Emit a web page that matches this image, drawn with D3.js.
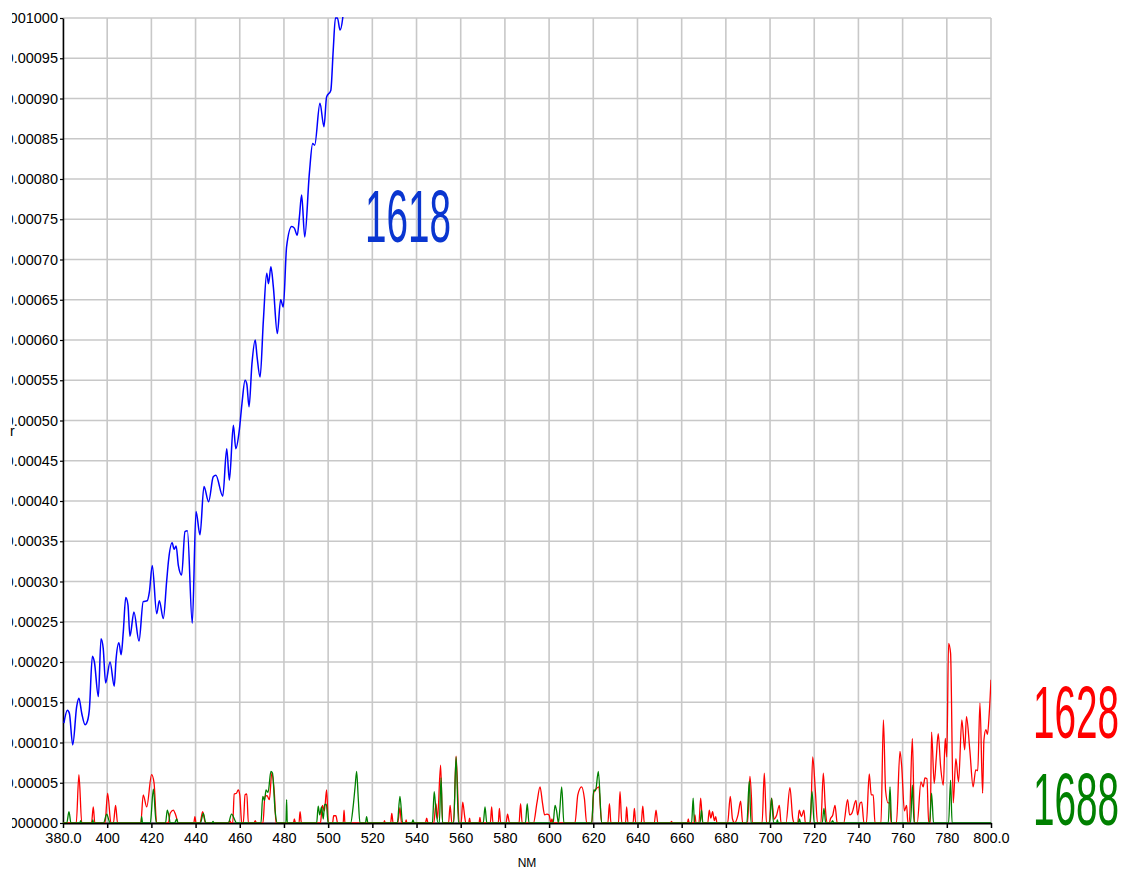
<!DOCTYPE html>
<html><head><meta charset="utf-8">
<script src="https://cdn.jsdelivr.net/npm/d3@7/dist/d3.min.js"></script>
<style>
html,body{margin:0;padding:0;background:#fff;}
svg{display:block;font-family:Arial,"Liberation Sans",sans-serif;}
</style></head>
<body><svg id="c" width="1128" height="874"></svg>
<script>
// ---- data (wavelength nm, value in units of 1e-5) ----
const xTicks = [380,400,420,440,460,480,500,520,540,560,580,600,620,640,660,680,700,720,740,760,780,800];
const xTickLabels = ["380.0","400","420","440","460","480","500","520","540","560","580","600","620","640","660","680","700","720","740","760","780","800.0"];
const yTicks = [0,5,10,15,20,25,30,35,40,45,50,55,60,65,70,75,80,85,90,95,100];
const yTickLabels = ["0.000000","0.00005","0.00010","0.00015","0.00020","0.00025","0.00030","0.00035","0.00040","0.00045","0.00050","0.00055","0.00060","0.00065","0.00070","0.00075","0.00080","0.00085","0.00090","0.00095","0.001000"];
const seriesNames = ["1618","1628","1688"];

const s1618 = [[380.4,12.4],[382,14.0],[382.9,13.6],[384.4,9.7],[386.2,14.5],[387.2,15.5],[388.5,13.6],[390,12.2],[390.7,12.4],[391.9,14.0],[393.3,20.7],[394.2,20.0],[396,15.7],[397.2,22.9],[398.2,21.7],[399.3,17.4],[401.3,20.0],[403.2,17.0],[404,20.3],[405.3,22.4],[406.3,20.9],[407.3,23.8],[408.4,28.0],[409.4,27.1],[410.3,23.2],[412.1,26.2],[414.4,22.6],[416.3,27.5],[418.1,27.6],[419.1,28.7],[420.4,32.0],[422.4,26.0],[423.6,27.6],[425.4,25.4],[426.9,30.0],[427.8,32.7],[429.4,34.8],[430.3,34.0],[431.2,34.4],[432.2,32.0],[433.7,30.8],[435.2,36.2],[436.3,36.3],[438.5,24.8],[440.2,38.7],[442,35.8],[443.8,41.8],[445.9,39.9],[448,43.0],[449.2,43.2],[452.3,40.6],[454.1,46.5],[455.3,42.6],[457.1,49.4],[458.2,46.5],[459.8,48.8],[461,52.1],[462.4,55.0],[463.2,54.5],[464.2,51.7],[465.5,57.0],[467,60.0],[467.8,58.0],[469.2,55.4],[470.7,62.5],[472.2,68.3],[473,67.0],[474.1,69.1],[475.2,66.6],[477,60.8],[478.5,65.0],[479.7,64.1],[481.2,71.6],[483.5,74.1],[484.7,73.9],[486,73.0],[487,75.3],[488,78.0],[489.4,72.8],[491.5,80.7],[493,84.4],[493.9,84.2],[496.3,89.4],[498.1,86.5],[499.3,90.2],[501.2,91.0],[502.3,96.0],[503.3,100],[504.2,100],[505.4,98.5],[506.6,100],[507.6,103]];

const s1628 = [[380,0],[386,0],[387.2,6.0],[388.5,0],[392.9,0],[393.7,2.0],[394.4,0],[399,0],[400.2,3.7],[401.7,0],[402.8,0],[403.8,2.2],[404.7,0],[415.2,0],[416.3,3.5],[417.9,2.0],[420.1,6.0],[421.2,5.0],[422.4,0],[427.7,0],[428.5,1.2],[429.9,1.6],[431,1.0],[432.2,0],[439.2,0],[439.7,0.8],[440.2,0],[442,0],[443.2,1.4],[444.5,0],[455,0],[455.5,0.3],[456,0],[456.8,0],[457.5,3.6],[458.5,3.7],[459.3,4.1],[460,3.5],[460.9,0],[461.6,0],[462.4,3.5],[463.2,3.6],[463.9,0],[466.5,0],[467,0.3],[467.5,0],[470.5,0],[471.4,3.3],[472.3,3.4],[473.4,2.9],[474.5,6.2],[475.7,3.5],[476.4,0],[484.3,0],[484.7,0.5],[485.2,0],[486.8,0],[487.3,1.4],[487.9,0],[496.5,0],[497.4,2.2],[498.3,1.5],[499.3,4.1],[500.1,0],[502,0],[502.5,0.9],[503.5,0.9],[504.3,0],[506.8,0],[507.2,1.6],[507.6,0],[525.2,0],[525.5,0.3],[525.8,0],[528.3,0],[528.8,1.2],[529.4,0],[531.5,0],[532.5,1.9],[533.2,0],[535,0],[535.3,0.4],[535.6,0],[544,0],[544.6,0.6],[545.2,0],[547.8,0],[548.8,2.4],[549.5,0.5],[550.9,7.2],[551.8,0],[554.5,0],[555.2,2.2],[556,0],[556.8,0],[557.9,8.3],[559.3,0],[560.2,0],[560.9,2.6],[561.8,0.8],[562.3,0],[563.6,0],[564,0.6],[564.4,0],[568.3,0],[568.7,0.7],[569.1,0],[573.4,0],[574,2.0],[574.6,0],[577,0],[577.5,1.8],[578.1,0],[580.5,0],[581.2,1.1],[582.1,0],[586.4,0],[587.1,2.4],[587.8,0],[592.9,0],[594.5,2.5],[595.9,4.5],[597,2.5],[598,1.0],[599,1.1],[600,1.0],[600.8,0],[601.3,0.5],[601.8,0],[611.7,0],[613,3.5],[614.7,4.5],[616,3.0],[617,0],[619.3,0],[620.2,3.8],[621.5,4.3],[622.5,4.5],[623.8,0],[626.6,0],[627.3,2.4],[628,0],[631.4,0],[632.1,3.9],[632.9,0],[634.6,0],[635.1,2.0],[635.7,0],[638,0],[638.6,1.8],[639.2,0],[641.7,0],[642.4,2.1],[643.1,0],[647.6,0],[648.4,1.6],[649.2,0],[655,0],[655.4,0.2],[655.8,0],[662.6,0],[663,0.5],[663.4,0],[665.6,0],[666,1.0],[666.5,0],[667.8,0],[668.6,3.1],[669.5,0],[671.8,0],[672.5,1.6],[673.2,0.6],[674,1.4],[674.8,0.3],[675.4,0.8],[676,0],[680.8,0],[682,3.3],[683,0.5],[684,0],[685.5,1.0],[686.7,2.7],[687.6,0],[689.8,0],[690.9,5.8],[691.6,3.0],[692,0],[696.4,0],[697.4,6.2],[698.4,0],[699.6,0],[700.7,3.1],[701.8,0.5],[703,1.0],[704.2,2.2],[705,0],[707.2,0],[709,4.4],[710.3,0.5],[711,0],[712.5,0],[713.2,1.6],[714.2,0.8],[715.3,1.6],[716,0],[718.3,0],[719.3,8.2],[720.5,4.0],[721.5,0],[723,0],[724.1,6.2],[725,2.0],[725.8,0],[726.8,0],[727.3,0.5],[728.4,1.0],[729.4,2.2],[730.4,0],[733.3,0],[735.1,2.9],[736,1.0],[737,1.2],[738.9,2.8],[739.6,1.0],[740.8,2.5],[741.5,2.6],[742.5,0],[743.6,0],[744.9,6.1],[745.8,3.5],[746.7,3.5],[747.5,0],[750.2,0],[751.3,12.8],[752.3,4.0],[753.4,2.5],[754.3,2.5],[754.8,0],[757.2,0],[758.8,8.9],[759.6,7.0],[760.8,1.5],[761.8,2.2],[762.4,0],[763,0],[764.4,10.5],[765.4,0],[766.6,0],[768.3,5.1],[769.3,4.5],[770.1,5.6],[771,5.5],[771.8,0],[772.5,0],[773.1,11.3],[774.3,4.9],[775.2,8.0],[776.1,11.1],[777.2,7.0],[778.4,4.7],[779.3,10.5],[780,8.2],[780.8,22.3],[781.7,21.1],[782.9,2.5],[784.1,8.0],[785.3,5.1],[786.8,12.8],[788.1,9.1],[788.9,13.2],[790.4,9.1],[791.9,4.5],[793.1,6.6],[794,6.5],[795,14.9],[796.2,3.7],[796.8,10.3],[797.7,11.6],[798.4,11.0],[799.2,13.6],[800,17.8]];

const s1688 = [[380,0],[381.7,0],[382.7,1.4],[383.6,0],[387.6,0],[388,0.3],[388.4,0],[393.2,0],[393.5,0.4],[393.8,0],[398.3,0],[399.8,1.1],[400.8,0.3],[401.2,0],[415.3,0],[415.6,0.8],[416,0],[419.5,0],[420.9,4.2],[422.2,0],[426.4,0],[427.2,1.6],[428,0.8],[428.5,0],[430.5,0],[431.5,0.5],[432,0],[442.2,0],[443.5,1.2],[444.6,0],[447.5,0],[447.9,0.2],[448.3,0],[454.8,0],[456.3,1.1],[458.6,0],[469.6,0],[470.4,3.3],[471.2,2.8],[471.9,4.1],[472.8,3.8],[474.1,6.4],[474.8,6.2],[476,1.5],[477,0],[480.9,0],[481.2,2.9],[481.5,0],[494.8,0],[495.5,2.1],[496.2,1.0],[497,2.0],[497.8,0.5],[498.4,2.3],[499.2,2.3],[500,0],[510.2,0],[511.3,2.0],[512.2,4.5],[512.9,6.4],[513.6,3.2],[514.4,0],[516.9,0],[517.4,0.8],[518,0],[531.3,0],[532.5,3.3],[533.7,0],[537.9,0],[538.4,0.4],[538.9,0],[547.2,0],[548,3.9],[548.8,1.5],[549.8,0],[550.3,0],[551.1,5.6],[551.8,0],[556.8,0],[557.9,8.2],[559,0],[570.2,0],[571,2.0],[571.8,0],[589.3,0],[590.1,2.4],[590.9,0],[601.8,0],[602.7,2.2],[603.4,1.5],[604.2,0],[604.8,1.5],[605.7,4.5],[606.7,0],[619.3,0],[620.2,4.1],[621,4.0],[622.3,6.4],[623.8,0],[664.5,0],[665.2,3.1],[665.8,0],[668.3,0],[669,1.6],[669.6,0],[689.5,0],[690.6,5.2],[691.4,0],[699.8,0],[700.7,3.1],[701.6,0],[703,0],[703.3,0.4],[703.7,0],[712.8,0],[713.3,0.5],[713.8,0],[718,0],[719,3.9],[720,0],[723.6,0],[724.4,1.8],[725.2,0],[727.7,0],[728.3,0.3],[728.9,0],[753.5,0],[754.3,4.5],[755,0],[763.6,0],[764.4,4.7],[765.2,0],[772.2,0],[773.1,3.7],[774,0],[780.8,0],[781.7,5.3],[782.4,0],[800,0]];

// ---- drawing ----
const svg = d3.select("#c");
const L = 63, R = 991, T = 18, B = 823;
const x = d3.scaleLinear().domain([380, 800]).range([L, R]);
const y = d3.scaleLinear().domain([0, 100]).range([B, T]); // units of 1e-5

const defs = svg.append("defs");
defs.append("clipPath").attr("id","plot").append("rect")
  .attr("x", L).attr("y", T - 1).attr("width", R - L).attr("height", B - T + 1);
defs.append("clipPath").attr("id","lab").append("rect")
  .attr("x", 12).attr("y", 0).attr("width", 1116).attr("height", 874);

// grid
const grid = svg.append("g");
grid.selectAll("line.v").data(xTicks).join("line")
  .attr("x1", d => x(d)).attr("x2", d => x(d)).attr("y1", T).attr("y2", B)
  .attr("stroke", "#c8c8c8").attr("stroke-width", 1.6);
grid.selectAll("line.h").data(yTicks).join("line")
  .attr("x1", L).attr("x2", R).attr("y1", d => y(d)).attr("y2", d => y(d))
  .attr("stroke", "#c8c8c8").attr("stroke-width", 1.6);

// axes
const xAxis = d3.axisBottom(x).tickValues(xTicks)
  .tickFormat((d, i) => xTickLabels[i]).tickSize(5).tickSizeOuter(0);
const gx = svg.append("g").attr("transform", `translate(0,${B})`).call(xAxis);
gx.select(".domain").attr("stroke", "#000").attr("stroke-width", 2);
gx.selectAll(".tick line").attr("stroke", "#000").attr("stroke-width", 1.5);
gx.selectAll(".tick text").attr("font-size", "14.5px").attr("fill", "#000")
  .attr("font-family", "Arial, 'Liberation Sans', sans-serif").attr("dy", "1.05em").attr("y", 5);

const yAxis = d3.axisLeft(y).tickValues(yTicks)
  .tickFormat((d, i) => yTickLabels[i]).tickSize(3).tickSizeOuter(0);
const gyOuter = svg.append("g").attr("clip-path", "url(#lab)");
const gy = gyOuter.append("g").attr("transform", `translate(${L},0)`).call(yAxis);
gy.select(".domain").attr("stroke", "#000").attr("stroke-width", 1.5);
gy.selectAll(".tick line").attr("stroke", "#000").attr("stroke-width", 1.2);
gy.selectAll(".tick text").attr("font-size", "14.5px").attr("fill", "#000")
  .attr("font-family", "Arial, 'Liberation Sans', sans-serif").attr("x", -5);

// axis titles
svg.append("text").attr("x", (L + R) / 2).attr("y", 867).attr("text-anchor", "middle")
  .attr("font-size", "12px").attr("fill", "#000").text("NM");
svg.append("text").attr("x", 10).attr("y", 436).attr("font-size", "14px").attr("fill", "#000").text("r");

// lines
const line = d3.line().x(d => x(d[0])).y(d => y(d[1])).curve(d3.curveMonotoneX);
const lines = svg.append("g").attr("clip-path", "url(#plot)");
lines.append("path").datum(s1618).attr("d", line)
  .attr("fill", "none").attr("stroke", "#0000ff").attr("stroke-width", 1.5);
lines.append("path").datum(s1628).attr("d", line)
  .attr("fill", "none").attr("stroke", "#ff0000").attr("stroke-width", 1.3);
lines.append("path").datum(s1688).attr("d", line)
  .attr("fill", "none").attr("stroke", "#008000").attr("stroke-width", 1.3);

// series labels
const labFont = "'Liberation Sans Narrow', 'Arial Narrow', Arial, sans-serif";
const labels = [
  {name: seriesNames[0], color: "#0a36d0", x: 365, y: 242},
  {name: seriesNames[1], color: "#ff0000", x: 1033, y: 738},
  {name: seriesNames[2], color: "#008000", x: 1033, y: 825}
];
svg.selectAll("text.lab").data(labels).join("text").attr("class", "lab")
  .attr("x", d => d.x).attr("y", d => d.y)
  .attr("font-family", labFont).attr("font-size", "75px")
  .attr("textLength", 86).attr("lengthAdjust", "spacingAndGlyphs")
  .attr("fill", d => d.color).text(d => d.name);
</script></body></html>
